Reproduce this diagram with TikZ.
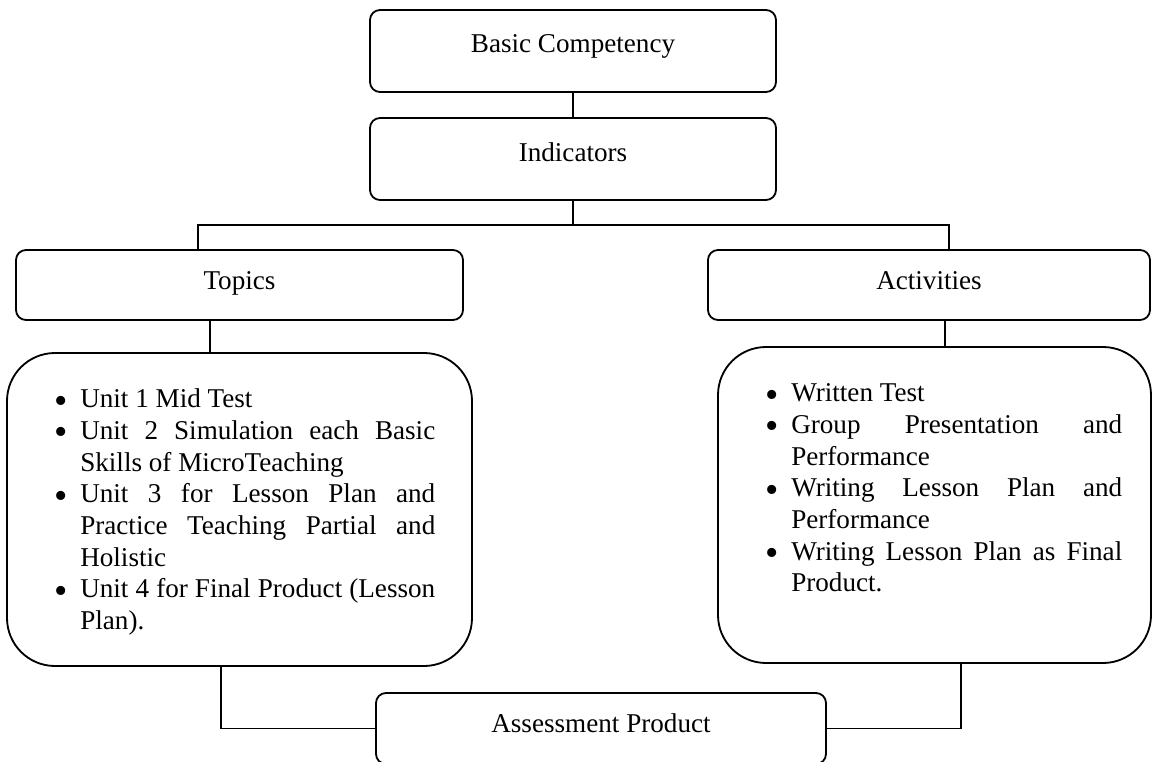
\documentclass[tikz,border=0pt]{standalone}
\usepackage{fontspec}
\setmainfont{Liberation Serif}
\usepackage{tikz}
\newcommand{\bodysize}{\fontsize{19.3pt}{22.5pt}\selectfont}
\newcommand{\dotmark}{\smash{\raisebox{-0.2em}{\scalebox{1.4}{\textbullet}}}}
\newenvironment{dotlist}{%
  \begin{list}{\dotmark}{%
    \setlength{\leftmargin}{0.5cm}\setlength{\labelsep}{0.32cm}%
    \setlength{\labelwidth}{0.4cm}\setlength{\itemsep}{0pt}%
    \setlength{\parsep}{0pt}\setlength{\topsep}{0pt}\setlength{\partopsep}{0pt}}%
  \hyphenpenalty=10000 \tolerance=10000 \hbadness=10000}{\end{list}}
\tikzset{
  box/.style={draw=black, line width=1.3pt, rounded corners=0.25cm, inner sep=0pt,
    text height=0.55cm, text depth=0.35cm, font=\bodysize},
  listbox/.style={draw=black, line width=1.3pt, rounded corners=1.2cm, inner sep=0pt},
  listtxt/.style={anchor=north west, inner sep=0pt, align=justify, font=\bodysize},
  conn/.style={draw=black, line width=1.3pt}
}

\begin{document}
\begin{tikzpicture}
  \useasboundingbox (0,0) rectangle (28.8,-19.05);

  % top two boxes
  \node[box, text depth=0.45cm, minimum width=10.15cm, minimum height=2.05cm] (basic) at (14.325,-1.275) {Basic Competency};
  \node[box, text depth=0.45cm, minimum width=10.15cm, minimum height=2.05cm] (ind) at (14.325,-3.975) {Indicators};

  % the two branches
  \node[box, minimum width=11.175cm, minimum height=1.75cm] (topics) at (5.9875,-7.125) {Topics};
  \node[box, minimum width=11.05cm, minimum height=1.75cm] (acts) at (23.225,-7.125) {Activities};
  \coordinate (brL) at (4.95,-5.625);
  \coordinate (brR) at (23.725,-5.625);

  % lists under each branch
  \node[listbox, minimum width=11.625cm, minimum height=7.825cm] (tlist) at (5.9875,-12.7375) {};
  \node[listtxt, text width=9.375cm] (tlisttxt) at (1.5,-9.4) {%
    \begin{dotlist}
      \item Unit 1 Mid Test
      \item Unit 2 Simulation each Basic Skills of MicroTeaching
      \item Unit 3 for Lesson Plan and Practice Teaching Partial and Holistic
      \item Unit 4 for Final Product (Lesson Plan).
    \end{dotlist}};
  \node[listbox, minimum width=10.825cm, minimum height=7.9cm] (alist) at (23.3625,-12.625) {};
  \node[listtxt, text width=8.775cm] (alisttxt) at (19.275,-9.25) {%
    \begin{dotlist}
      \item Written Test
      \item Group Presentation and Performance
      \item Writing Lesson Plan and Performance
      \item Writing Lesson Plan as Final Product.
    \end{dotlist}};

  \node[box, minimum width=11.25cm, minimum height=1.775cm] (assess) at (15.025,-18.2125) {Assessment Product};

  % connectors
  \draw[conn] (basic.south) -- (ind.north);
  \draw[conn] (ind.south) -- (ind.south |- brL);
  \draw[conn] (topics.north -| brL) -- (brL) -- (brR) -- (acts.north -| brR);
  \draw[conn] ([xshift=-0.7375cm]topics.south) -- ([xshift=-0.7375cm]tlist.north);
  \draw[conn] ([xshift=0.4cm]acts.south) -- ([xshift=0.2625cm]alist.north);
  \draw[conn] ([xshift=-0.4625cm]tlist.south) |- (assess.west);
  \draw[conn] ([xshift=0.6625cm]alist.south) |- (assess.east);
\end{tikzpicture}
\end{document}
